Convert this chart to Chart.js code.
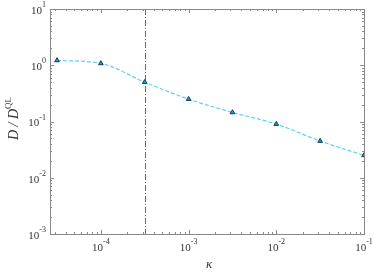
<!DOCTYPE html>
<html>
<head>
<meta charset="utf-8">
<script src="https://cdn.jsdelivr.net/npm/chart.js@4/dist/chart.umd.min.js"></script>
<style>
  body { margin: 0; background: #fff; }
  canvas { display: block; }
</style>
</head>
<body>
<canvas id="chart" width="374" height="274"></canvas>
<script>
// data
const kappa = [3.16e-5, 1e-4, 3.16e-4, 1e-3, 3.16e-3, 1e-2, 3.16e-2, 1e-1];
const ratio = [1.22, 1.08, 0.50, 0.25, 0.145, 0.09, 0.045, 0.025];
const kappaCritical = 3.16e-4;

// tick labels (exponents of 10)
const xTickExp = [-4, -3, -2, -1];
const yTickExp = [-3, -2, -1, 0, 1];

const xMin = Math.pow(10, -4.58);
const xMax = 1e-1;
const yMin = 1e-3;
const yMax = 1e1;

const serif = '"Liberation Serif", "Times New Roman", serif';
const axisColor = '#8a8a8a';

function drawPow(ctx, x, y, exp, align) {
  const base = '10';
  const sup = String(exp);
  ctx.font = '11px ' + serif;
  const wb = ctx.measureText(base).width;
  ctx.font = '8px ' + serif;
  const ws = ctx.measureText(sup).width;
  const total = wb + ws;
  let x0 = x;
  if (align === 'center') x0 = x - total / 2;
  if (align === 'right') x0 = x - total;
  ctx.textAlign = 'left';
  ctx.textBaseline = 'middle';
  ctx.fillStyle = '#333';
  ctx.font = '11px ' + serif;
  ctx.fillText(base, x0, y + 2);
  ctx.font = '8px ' + serif;
  ctx.fillText(sup, x0 + wb, y - 4);
}

function minorValues(lo, hi) {
  const out = [];
  for (let e = Math.floor(Math.log10(lo)); e <= Math.ceil(Math.log10(hi)); e++) {
    for (let m = 1; m <= 9; m++) {
      const v = m * Math.pow(10, e);
      if (v >= lo * 0.999 && v <= hi * 1.001) out.push({ v: v, major: m === 1 });
    }
  }
  return out;
}

const axesPlugin = {
  id: 'matlabAxes',
  beforeDatasetsDraw(chart) {
    const { ctx, chartArea: a, scales } = chart;
    const xc = scales.x.getPixelForValue(kappaCritical);
    ctx.save();
    ctx.strokeStyle = '#6a6a6a';
    ctx.lineWidth = 1;
    ctx.setLineDash([6, 2, 1, 2]);
    ctx.beginPath();
    ctx.moveTo(Math.round(xc) + 0.5, a.top);
    ctx.lineTo(Math.round(xc) + 0.5, a.bottom);
    ctx.stroke();
    ctx.restore();
  },
  afterDraw(chart) {
    const { ctx, chartArea: a, scales } = chart;
    ctx.save();
    ctx.strokeStyle = axisColor;
    ctx.lineWidth = 1;
    ctx.setLineDash([]);
    ctx.strokeRect(Math.round(a.left) + 0.5, Math.round(a.top) + 0.5,
      Math.round(a.right - a.left), Math.round(a.bottom - a.top));

    // ticks inside the box on all four sides
    ctx.beginPath();
    minorValues(xMin, xMax).forEach(t => {
      const px = Math.round(scales.x.getPixelForValue(t.v)) + 0.5;
      const len = t.major ? 4 : 2;
      ctx.moveTo(px, a.bottom); ctx.lineTo(px, a.bottom - len);
      ctx.moveTo(px, a.top); ctx.lineTo(px, a.top + len);
    });
    minorValues(yMin, yMax).forEach(t => {
      const py = Math.round(scales.y.getPixelForValue(t.v)) + 0.5;
      const len = t.major ? 4 : 2;
      ctx.moveTo(a.left, py); ctx.lineTo(a.left + len, py);
      ctx.moveTo(a.right, py); ctx.lineTo(a.right - len, py);
    });
    ctx.stroke();

    xTickExp.forEach(e => {
      const px = scales.x.getPixelForValue(Math.pow(10, e));
      drawPow(ctx, px, a.bottom + 12, e, 'center');
    });
    yTickExp.forEach(e => {
      const py = scales.y.getPixelForValue(Math.pow(10, e));
      drawPow(ctx, a.left - 4, py, e, 'right');
    });

    // axis titles
    ctx.fillStyle = '#333';
    ctx.textBaseline = 'middle';
    ctx.font = 'italic 13px ' + serif;
    ctx.textAlign = 'center';
    ctx.fillText('\u03ba', (a.left + a.right) / 2 + 2, a.bottom + 31);

    ctx.translate(13, (a.top + a.bottom) / 2 - 3);
    ctx.rotate(-Math.PI / 2);
    const main = 'D / D';
    ctx.font = 'italic 14px ' + serif;
    const wm = ctx.measureText(main).width;
    ctx.font = '9px ' + serif;
    const wq = ctx.measureText('QL').width;
    const x0 = -(wm + wq) / 2;
    ctx.textAlign = 'left';
    ctx.font = 'italic 14px ' + serif;
    ctx.fillText(main, x0, 1);
    ctx.font = '9px ' + serif;
    ctx.fillText('QL', x0 + wm, -4);
    ctx.restore();
  }
};

new Chart(document.getElementById('chart'), {
  type: 'line',
  data: {
    datasets: [{
      data: kappa.map((k, i) => ({ x: k, y: ratio[i] })),
      borderColor: '#5fd2f3',
      borderWidth: 1.2,
      borderDash: [4, 2],
      cubicInterpolationMode: 'monotone',
      pointStyle: 'triangle',
      pointRadius: 2.7,
      pointBackgroundColor: '#0d9fd6',
      pointBorderColor: '#1c3d57',
      pointBorderWidth: 1
    }]
  },
  options: {
    responsive: false,
    animation: false,
    devicePixelRatio: 1,
    layout: { padding: { top: 9, right: 10, left: 0, bottom: 0 } },
    plugins: { legend: { display: false }, tooltip: { enabled: false } },
    scales: {
      x: {
        type: 'logarithmic',
        min: xMin,
        max: xMax,
        grid: { display: false },
        border: { display: false },
        ticks: { display: false },
        afterFit(scale) { scale.height = 40; }
      },
      y: {
        type: 'logarithmic',
        min: yMin,
        max: yMax,
        grid: { display: false },
        border: { display: false },
        ticks: { display: false },
        afterFit(scale) { scale.width = 50; }
      }
    }
  },
  plugins: [axesPlugin]
});
</script>
</body>
</html>
